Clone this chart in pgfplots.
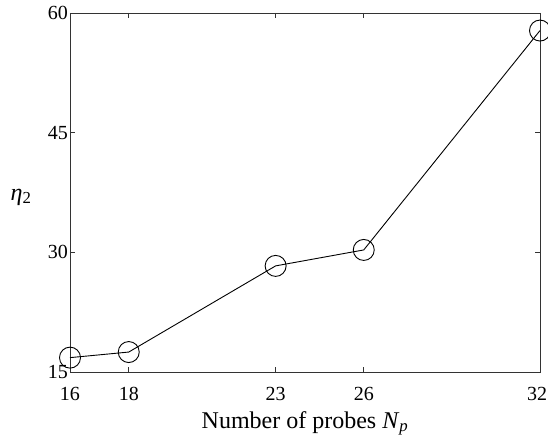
\documentclass[border=0pt]{standalone}
\usepackage{fontspec}
\setmainfont{Liberation Serif}
\usepackage{pgfplots}
\pgfplotsset{compat=1.18}

\begin{document}
\begin{tikzpicture}
  \useasboundingbox (-70pt,-69pt) rectangle (478pt,372pt);
  \begin{axis}[
      scale only axis,
      width=470pt, height=359pt,
      xmin=16, xmax=32,
      ymin=15, ymax=60,
      xtick={16,18,23,26,32},
      xticklabels={16,18,23,26,\hspace{-6pt}32},
      ytick={15,30,45,60},
      tick pos=both,
      tick align=inside,
      major tick length=5pt,
      axis line style={line width=0.9pt, black!80},
      tick style={line width=0.8pt, black!80},
      clip=false,
      /pgf/number format/assume math mode=true,
      tick label style={font=\fontsize{20}{23}\selectfont},
      xticklabel style={anchor=base, yshift=-28pt},
      yticklabel style={inner sep=2pt},
      label style={font=\fontsize{24}{27}\selectfont},
      xlabel={Number of probes \textit{N}\textsubscript{\textit{p}}},
      xlabel style={at={(axis description cs:0.5,0)}, anchor=base, yshift=-56pt},
      ylabel={\textit{η}\textsubscript{2}},
      ylabel style={at={(axis description cs:-0.104,0.487)}, rotate=-90, anchor=center},
    ]
    \addplot[black, line width=0.9pt, mark=o, mark size=10.5pt,
             mark options={line width=0.9pt}] coordinates {
      (16,16.8) (18,17.5) (23,28.3) (26,30.3) (32,57.8)
    };
  \end{axis}
\end{tikzpicture}
\end{document}
